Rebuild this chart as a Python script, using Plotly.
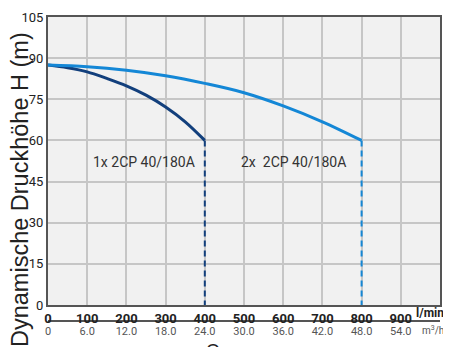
import plotly.graph_objects as go

# pump curves (l/min -> m)
q_1x = [0, 50, 100, 150, 200, 250, 300, 350, 400]
h_1x = [87.5, 86.5, 85.0, 82.6, 79.9, 76.5, 72.2, 66.8, 60.0]
q_2x = [0, 100, 200, 300, 400, 500, 600, 700, 800]
h_2x = [87.5, 86.9, 85.6, 83.6, 80.8, 77.4, 72.6, 66.8, 60.0]

x_ticks = [0, 100, 200, 300, 400, 500, 600, 700, 800, 900]
x_labels = ["<b>%d</b>" % v for v in x_ticks]
m3h_labels = ["0", "6.0", "12.0", "18.0", "24.0", "30.0", "36.0", "42.0", "48.0", "54.0"]
y_ticks = [0, 15, 30, 45, 60, 75, 90, 105]

dark = "#123f7c"
light = "#1487d6"
narrow = "Roboto, Liberation Sans, sans-serif"
arial = "Liberation Sans, Arial, sans-serif"

# the page body has an 8px margin, so the figure is drawn 8px smaller
OFF = 8
W, H = 451 - OFF, 347 - OFF
L, R, T, B = 48 - OFF, 11, 17 - OFF, 26
pw = W - L - R
ph = H - T - B


def px(x):
    return (x - OFF - L) / pw


def py(y):
    return (H - B - (y - OFF)) / ph


fig = go.Figure()
fig.add_trace(go.Scatter(x=q_1x, y=h_1x, mode="lines", line=dict(color=dark, width=3, shape="spline"),
                         showlegend=False, hoverinfo="skip"))
fig.add_trace(go.Scatter(x=q_2x, y=h_2x, mode="lines", line=dict(color=light, width=3, shape="spline"),
                         showlegend=False, hoverinfo="skip"))
# dashed drop lines at the end of each curve
fig.add_trace(go.Scatter(x=[q_1x[-1], q_1x[-1]], y=[h_1x[-1], 0], mode="lines",
                         line=dict(color=dark, width=2, dash="6px,4px"), showlegend=False, hoverinfo="skip"))
fig.add_trace(go.Scatter(x=[q_2x[-1], q_2x[-1]], y=[h_2x[-1], 0], mode="lines",
                         line=dict(color=light, width=2, dash="6px,4px"), showlegend=False, hoverinfo="skip"))
# invisible trace to hold the m3/h axis
fig.add_trace(go.Scatter(x=[0, 1000], y=[0, 0], xaxis="x2", mode="lines",
                         line=dict(width=0), showlegend=False, hoverinfo="skip"))

fig.update_layout(
    width=W, height=H,
    margin=dict(l=L, r=R, t=T, b=B, autoexpand=False),
    paper_bgcolor="white",
    plot_bgcolor="#f1f1f1",
    font=dict(family=narrow, color="#222"),
    xaxis=dict(range=[0, 1000], tickvals=x_ticks, ticktext=x_labels, ticks="", showgrid=True,
               gridcolor="#c6c6c6", gridwidth=1.5, showline=True, linecolor="#555", linewidth=2,
               mirror=True, automargin=False, zeroline=False, anchor="y",
               tickfont=dict(size=13, family=narrow, color="#222")),
    xaxis2=dict(range=[0, 1000], tickvals=x_ticks, ticktext=m3h_labels, overlaying="x",
                anchor="free", position=0, side="bottom", showgrid=False, zeroline=False,
                showline=True, linecolor="#555", linewidth=1.5, ticks="", automargin=False,
                tickfont=dict(size=11, family=narrow, color="#555")),
    yaxis=dict(range=[0, 105], tickvals=y_ticks, ticks="", showgrid=True, gridcolor="#c6c6c6",
               gridwidth=1.5, showline=True, linecolor="#555", linewidth=2, mirror=True,
               zeroline=False, automargin=False, domain=[16 / ph, 1],
               tickfont=dict(size=13, family=narrow, color="#222")),
)

fig.add_annotation(text="1x 2CP 40/180A", x=245, y=52, xref="x", yref="y", showarrow=False,
                   font=dict(size=14, family=narrow, color="#333"))
fig.add_annotation(text="2x  2CP 40/180A", x=625, y=52, xref="x", yref="y", showarrow=False,
                   font=dict(size=14, family=narrow, color="#333"))
fig.add_annotation(text="<b>l/min</b>", x=px(430), y=py(313), xref="paper", yref="paper",
                   xanchor="center", yanchor="middle", showarrow=False,
                   font=dict(size=12, family=narrow, color="#222"))
fig.add_annotation(text="m<sup>3</sup>/h", x=px(433), y=py(330), xref="paper", yref="paper",
                   xanchor="center", yanchor="middle", showarrow=False,
                   font=dict(size=10, family=narrow, color="#555"))
fig.add_annotation(text="Dynamische Druckhöhe H (m)", textangle=-90, x=px(20), y=py(190),
                   xref="paper", yref="paper", xanchor="center", yanchor="middle", showarrow=False,
                   font=dict(size=23.5, family=arial, color="#222"))
fig.add_annotation(text="Q", x=px(213), y=py(339), xref="paper", yref="paper",
                   xanchor="center", yanchor="top", showarrow=False,
                   font=dict(size=18, family=arial, color="#222"))

fig.write_html("out.html")
